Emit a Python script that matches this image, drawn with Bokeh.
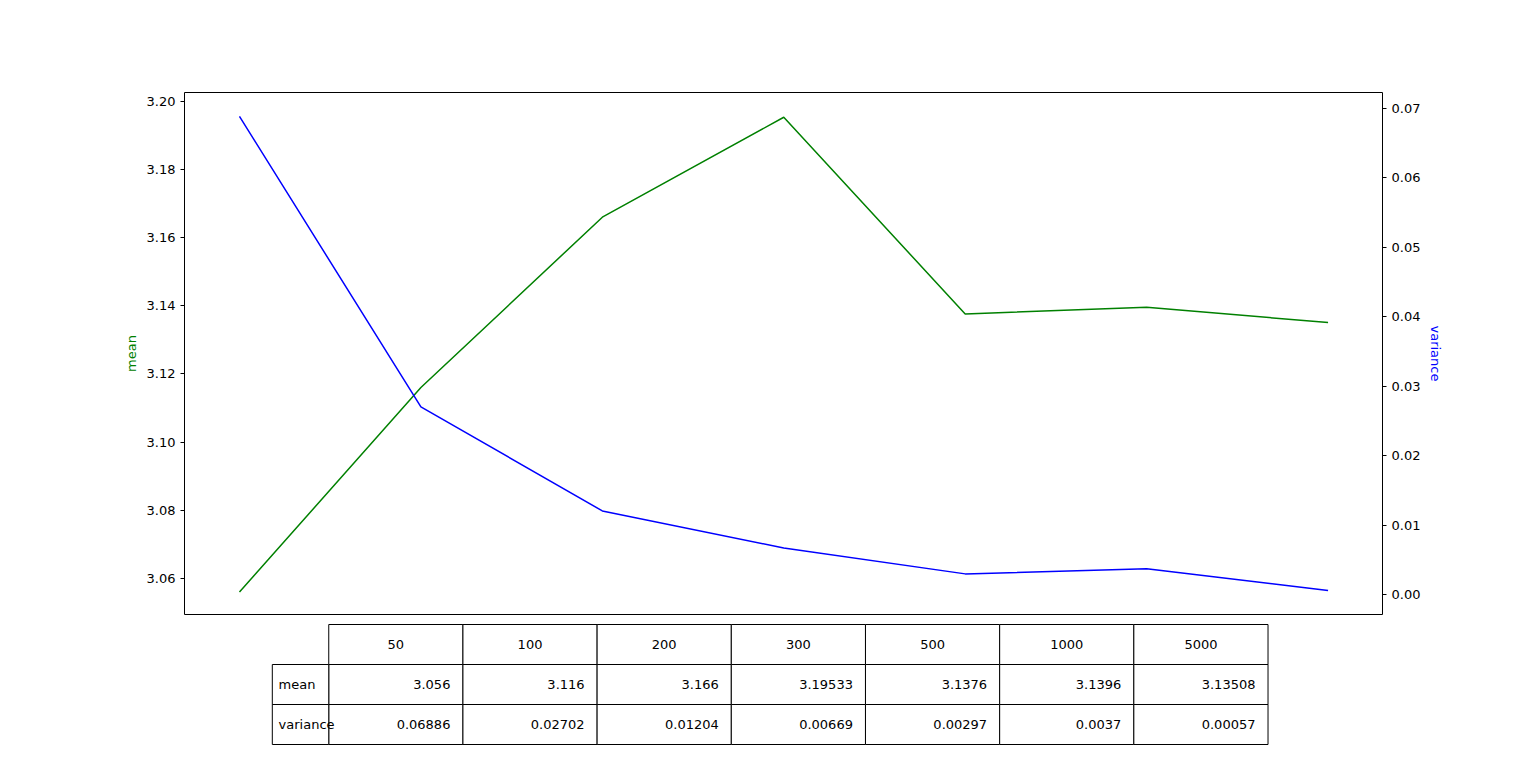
from bokeh.plotting import figure
from bokeh.models import Range1d, LinearAxis, FixedTicker, ColumnDataSource, PrintfTickFormatter
from bokeh.layouts import column
from bokeh.embed import file_html
from bokeh.resources import INLINE

categories = ["50", "100", "200", "300", "500", "1000", "5000"]
mean = [3.056, 3.116, 3.166, 3.19533, 3.1376, 3.1396, 3.13508]
variance = [0.06886, 0.02702, 0.01204, 0.00669, 0.00297, 0.0037, 0.00057]
mean_labels = ["3.056", "3.116", "3.166", "3.19533", "3.1376", "3.1396", "3.13508"]
var_labels = ["0.06886", "0.02702", "0.01204", "0.00669", "0.00297", "0.0037", "0.00057"]
FONT = "DejaVu Sans"

xs = list(range(len(categories)))
p = figure(width=1528, height=619, output_backend="svg", toolbar_location=None,
           x_range=Range1d(-0.303, 6.3), y_range=Range1d(3.0494, 3.2026),
           min_border_left=184, min_border_right=146, min_border_top=92, min_border_bottom=5)
p.extra_y_ranges = {"var": Range1d(-0.00288, 0.0723)}
p.xaxis.visible = False
p.grid.visible = False
p.outline_line_color = "black"
p.line(xs, mean, line_color="green", line_width=1.5)
p.line(xs, variance, line_color="blue", line_width=1.5, y_range_name="var")
ax = p.yaxis[0]
ax.ticker = FixedTicker(ticks=[3.06, 3.08, 3.10, 3.12, 3.14, 3.16, 3.18, 3.20])
ax.formatter = PrintfTickFormatter(format="%.2f")
ax.axis_label = "mean"
ax.axis_label_text_color = "green"
r = LinearAxis(y_range_name="var", axis_label="variance", axis_label_text_color="blue",
               ticker=FixedTicker(ticks=[0, 0.01, 0.02, 0.03, 0.04, 0.05, 0.06, 0.07]),
               formatter=PrintfTickFormatter(format="%.2f"))
p.add_layout(r, "right")
for a in [ax, r]:
    a.minor_tick_line_color = None
    a.major_tick_out = 4
    a.major_tick_in = 0
    a.major_label_text_font = FONT
    a.major_label_text_font_size = "13px"
    a.major_label_text_color = "black"
    a.axis_label_text_font = FONT
    a.axis_label_text_font_size = "13px"
    a.axis_label_text_font_style = "normal"
    a.axis_line_color = None

# table
t = figure(width=1528, height=140, output_backend="svg", toolbar_location=None,
           x_axis_type=None, y_axis_type=None,
           x_range=Range1d(0, 1528), y_range=Range1d(759, 619),
           min_border=0, min_border_left=0, min_border_right=0, min_border_top=0, min_border_bottom=0)
t.grid.visible = False
t.outline_line_color = None
x0, cw, lw, rh, y0 = 184.0, 171.14, 72.0, 40.0, 624.0
n = len(categories)
left = [x0 + i * cw for i in range(n)]
right = [l + cw for l in left]
quads = dict(left=[], right=[], top=[], bottom=[])
for i in range(n):
    for row in range(3):
        quads["left"].append(left[i]); quads["right"].append(right[i])
        quads["top"].append(y0 + row * rh); quads["bottom"].append(y0 + (row + 1) * rh)
for row in (1, 2):
    quads["left"].append(x0 - lw); quads["right"].append(x0)
    quads["top"].append(y0 + row * rh); quads["bottom"].append(y0 + (row + 1) * rh)
t.quad(source=ColumnDataSource(quads), fill_color="white", line_color="black", line_width=1)
t.text([(l + r_) / 2 for l, r_ in zip(left, right)], [y0 + rh / 2] * n, text=categories,
       text_align="center", text_baseline="middle", text_font_size="13px", text_font={"value": FONT})
t.text([r_ - 16 for r_ in right], [y0 + 1.5 * rh] * n, text=mean_labels,
       text_align="right", text_baseline="middle", text_font_size="13px", text_font={"value": FONT})
t.text([r_ - 16 for r_ in right], [y0 + 2.5 * rh] * n, text=var_labels,
       text_align="right", text_baseline="middle", text_font_size="13px", text_font={"value": FONT})
t.text([x0 - lw + 8] * 2, [y0 + 1.5 * rh, y0 + 2.5 * rh], text=["mean", "variance"],
       text_align="left", text_baseline="middle", text_font_size="13px", text_font={"value": FONT})

lay = column(p, t, spacing=0)
open("out.html", "w").write(file_html(lay, INLINE))
